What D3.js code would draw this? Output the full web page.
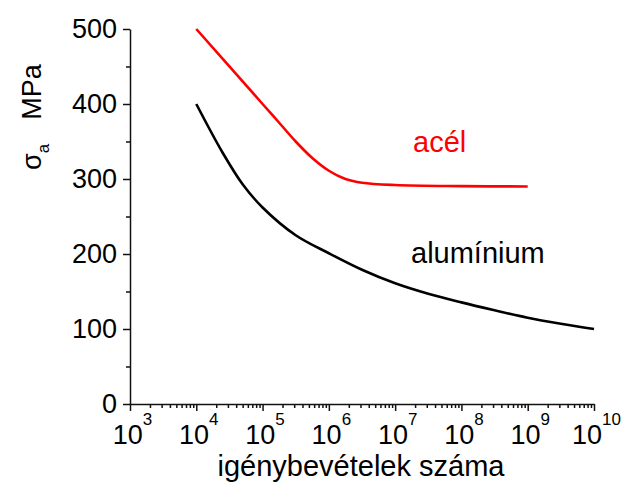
<!DOCTYPE html>
<html>
<head>
<meta charset="utf-8">
<script src="https://cdn.jsdelivr.net/npm/d3@7"></script>
<style>
  body { margin: 0; background: #fff; }
  text { font-family: Arial, "Liberation Sans", sans-serif; }
</style>
</head>
<body>
<div id="chart"></div>
<script>
var W = 621, H = 485;
var margin = { top: 29, right: 27, bottom: 81, left: 130 },
	width = W - margin.left - margin.right,
	height = H - margin.top - margin.bottom;

// acél (steel)
var steelN = [1e4, 1e5, 1.78e5, 3.16e5, 5.62e5, 1e6, 1.78e6, 3.16e6, 1e7, 1e8, 1e9];
var steelS = [500, 400, 375, 350, 328, 311, 300, 295, 292, 290.5, 290];
// alumínium
var aluN = [1e4, 2.5e4, 5e4, 1e5, 3.16e5, 1e6, 3.16e6, 1e7, 3.16e7, 1e8, 3.16e8, 1e9, 3.16e9, 1e10];
var aluS = [400, 335, 293, 262, 225, 201, 179, 161, 147, 135.5, 125, 115, 107, 100];

var yTicks = [0, 100, 200, 300, 400, 500];
var yMinor = [50, 150, 250, 350, 450];
var xExp = [3, 4, 5, 6, 7, 8, 9, 10];

var svg = d3.select("#chart").append("svg")
	.attr("width", W)
	.attr("height", H)
	.append("g").attr("transform", "translate(" + margin.left + "," + margin.top + ")");

var x = d3.scaleLog().domain([1e3, 1e10]).range([0, width]);
var y = d3.scaleLinear().domain([0, 500]).range([height, 0]);

//minor ticks
var xMinor = [];
for (var e = 3; e < 10; e++) {
	for (var m = 2; m < 10; m++) xMinor.push(m * Math.pow(10, e));
}
svg.append("g")
	.attr("transform", "translate(0," + height + ")")
	.call(d3.axisBottom(x).tickValues(xMinor).tickSize(4).tickFormat(""))
	.call(function (g) { g.select(".domain").remove(); });
svg.append("g")
	.call(d3.axisLeft(y).tickValues(yMinor).tickSize(4).tickFormat(""))
	.call(function (g) { g.select(".domain").remove(); });

//major y
var yAxis = svg.append("g")
	.call(d3.axisLeft(y).tickValues(yTicks).tickSize(7).tickSizeOuter(0).tickPadding(6));
yAxis.selectAll("text").style("font-size", "27px").attr("fill", "#000").attr("dy", "0.3em");

//major x
var xAxis = svg.append("g")
	.attr("transform", "translate(0," + height + ")")
	.call(d3.axisBottom(x).tickValues(xExp.map(function (d) { return Math.pow(10, d); }))
		.tickSize(7).tickSizeOuter(0).tickFormat(""));
xAxis.selectAll(".tick").append("text")
	.attr("fill", "#000")
	.attr("text-anchor", "middle")
	.attr("y", 40)
	.attr("x", 2)
	.style("font-size", "27px")
	.each(function (d) {
		var t = d3.select(this);
		t.append("tspan").text("10");
		t.append("tspan").attr("dy", -19).style("font-size", "17px").text(Math.round(Math.log10(d)));
	});

svg.selectAll(".domain, .tick line").attr("stroke", "#111").attr("stroke-width", 1.5);

//curves
var line = d3.line()
	.x(function (d) { return x(d[0]); })
	.y(function (d) { return y(d[1]); })
	.curve(d3.curveCatmullRom.alpha(0.5));

svg.append("path")
	.datum(steelN.map(function (n, i) { return [n, steelS[i]]; }))
	.attr("d", line)
	.attr("fill", "none")
	.attr("stroke", "#ff0000")
	.attr("stroke-width", 2.6);

svg.append("path")
	.datum(aluN.map(function (n, i) { return [n, aluS[i]]; }))
	.attr("d", line)
	.attr("fill", "none")
	.attr("stroke", "#000")
	.attr("stroke-width", 2.6);

//labels
svg.append("text")
	.attr("x", 413 - margin.left).attr("y", 152 - margin.top)
	.attr("fill", "#ff0000").style("font-size", "29px")
	.text("acél");
svg.append("text")
	.attr("x", 411 - margin.left).attr("y", 263 - margin.top)
	.attr("fill", "#000").style("font-size", "29px")
	.text("alumínium");

svg.append("text")
	.attr("x", 361 - margin.left).attr("y", 476 - margin.top)
	.attr("text-anchor", "middle")
	.attr("fill", "#000").style("font-size", "29px")
	.text("igénybevételek száma");

var ylab = svg.append("text")
	.attr("transform", "translate(" + (41 - margin.left) + "," + (170 - margin.top) + ") rotate(-90)")
	.attr("fill", "#000").style("font-size", "27px");
ylab.append("tspan").text("σ");
ylab.append("tspan").attr("dy", 8).style("font-size", "17px").text("a");
ylab.append("tspan").attr("dy", -8).attr("dx", 24).text("MPa");
</script>
</body>
</html>
